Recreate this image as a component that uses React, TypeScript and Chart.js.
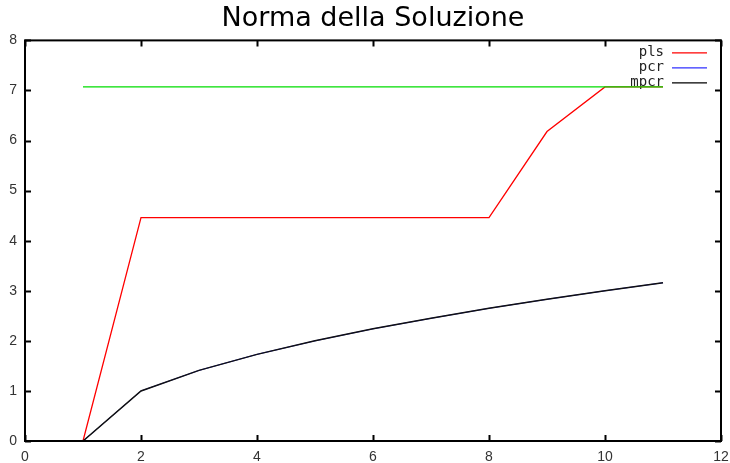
import React, { useEffect, useRef } from "react";
import { Chart, registerables } from "chart.js";

Chart.register(...registerables);

// Iteration index shared by every series
const iterations = [1, 2, 3, 4, 5, 6, 7, 8, 9, 10, 11];

// Solution norm per method
const plsNorm = [0, 4.46, 4.46, 4.46, 4.46, 4.46, 4.46, 4.46, 6.18, 7.07, 7.07];
const pcrNorm = [0, 1.0, 1.41, 1.73, 2.0, 2.24, 2.45, 2.65, 2.83, 3.0, 3.16];
const mpcrNorm = [0, 1.0, 1.41, 1.73, 2.0, 2.24, 2.45, 2.65, 2.83, 3.0, 3.16];
// Norm of the reference solution
const exactNorm = [7.07, 7.07, 7.07, 7.07, 7.07, 7.07, 7.07, 7.07, 7.07, 7.07, 7.07];

const xTicks = [0, 2, 4, 6, 8, 10, 12];
const yTicks = [0, 1, 2, 3, 4, 5, 6, 7, 8];

const legendEntries = [
  { label: "pls", color: "#ff0000" },
  { label: "pcr", color: "#3030ff" },
  { label: "mpcr", color: "#000000" },
];

const toPoints = (ys: number[]) => iterations.map((x, i) => ({ x, y: ys[i] }));

// Boxed frame with inward tick marks on all four sides
const framePlugin = {
  id: "frame",
  afterDatasetsDraw(chart: any) {
    const { ctx, chartArea, scales } = chart;
    const { left, right, top, bottom } = chartArea;
    const len = 6;
    ctx.save();
    ctx.strokeStyle = "#000";
    ctx.lineWidth = 2;
    ctx.beginPath();
    xTicks.forEach((v) => {
      const px = Math.round(scales.x.getPixelForValue(v)) + 0.5;
      ctx.moveTo(px, bottom);
      ctx.lineTo(px, bottom - len);
      ctx.moveTo(px, top);
      ctx.lineTo(px, top + len);
    });
    yTicks.forEach((v) => {
      const py = Math.round(scales.y.getPixelForValue(v)) + 0.5;
      ctx.moveTo(left, py);
      ctx.lineTo(left + len, py);
      ctx.moveTo(right, py);
      ctx.lineTo(right - len, py);
    });
    ctx.stroke();
    ctx.strokeRect(left, top, right - left, bottom - top);
    ctx.restore();
  },
};

// Key in the upper right corner: label on the left, line sample on the right
const keyPlugin = {
  id: "key",
  beforeDatasetsDraw(chart: any) {
    const { ctx, chartArea } = chart;
    const textRight = chartArea.right - 57;
    const sampleStart = chartArea.right - 49;
    const sampleEnd = chartArea.right - 14;
    ctx.save();
    ctx.font = "14px 'DejaVu Sans Mono'";
    ctx.textAlign = "right";
    ctx.textBaseline = "middle";
    legendEntries.forEach((e, i) => {
      const y = chartArea.top + 12 + i * 15;
      ctx.fillStyle = "#222";
      ctx.fillText(e.label, textRight, y);
      ctx.strokeStyle = e.color;
      ctx.lineWidth = 1.3;
      ctx.beginPath();
      ctx.moveTo(sampleStart, y + 0.5);
      ctx.lineTo(sampleEnd, y + 0.5);
      ctx.stroke();
    });
    ctx.restore();
  },
};

export default function App() {
  const canvasRef = useRef<HTMLCanvasElement | null>(null);

  useEffect(() => {
    document.body.style.margin = "0";
    const canvas = canvasRef.current;
    if (!canvas) return;

    const line = (data: number[], color: string, width: number, order: number) => ({
      data: toPoints(data),
      borderColor: color,
      backgroundColor: color,
      borderWidth: width,
      pointRadius: 0,
      tension: 0,
      fill: false,
      order,
    });

    const tickFont = { family: "'Liberation Sans', Arial, sans-serif", size: 14 };

    const chart = new Chart(canvas, {
      type: "line",
      data: {
        datasets: [
          { label: "pls", ...line(plsNorm, "#ff0000", 1.3, 3) },
          { label: "exact", ...line(exactNorm, "#00dd00", 1.3, 2) },
          { label: "pcr", ...line(pcrNorm, "#0000ff", 0.8, 1) },
          { label: "mpcr", ...line(mpcrNorm, "#111111", 1.5, 0) },
        ],
      },
      options: {
        responsive: false,
        animation: false,
        devicePixelRatio: 1,
        layout: { padding: { left: 0, right: 9, top: 0, bottom: 0 } },
        plugins: {
          legend: { display: false },
          tooltip: { enabled: false },
          title: {
            display: true,
            fullSize: false,
            text: "Norma della Soluzione",
            color: "#000",
            font: { family: "'DejaVu Sans', sans-serif", size: 27, weight: "normal" },
            padding: { top: 3, bottom: 5 },
          },
        },
        scales: {
          x: {
            type: "linear",
            min: 0,
            max: 12,
            afterFit: (s: any) => {
              s.height = 22;
              s.paddingLeft = 0;
              s.paddingRight = 0;
            },
            afterBuildTicks: (s: any) => {
              s.ticks = xTicks.map((v) => ({ value: v }));
            },
            grid: { display: false, drawTicks: false },
            border: { display: false },
            ticks: { padding: 8, color: "#333", font: tickFont, maxRotation: 0 },
          },
          y: {
            type: "linear",
            min: 0,
            max: 8,
            afterFit: (s: any) => {
              s.width = 25;
              s.paddingTop = 0;
              s.paddingBottom = 0;
            },
            afterBuildTicks: (s: any) => {
              s.ticks = yTicks.map((v) => ({ value: v }));
            },
            grid: { display: false, drawTicks: false },
            border: { display: false },
            ticks: { padding: 8, color: "#333", font: tickFont },
          },
        },
      },
      plugins: [keyPlugin, framePlugin],
    });

    return () => chart.destroy();
  }, []);

  return (
    <div style={{ width: 730, height: 463, background: "#fff" }}>
      <canvas ref={canvasRef} width={730} height={463} />
    </div>
  );
}
